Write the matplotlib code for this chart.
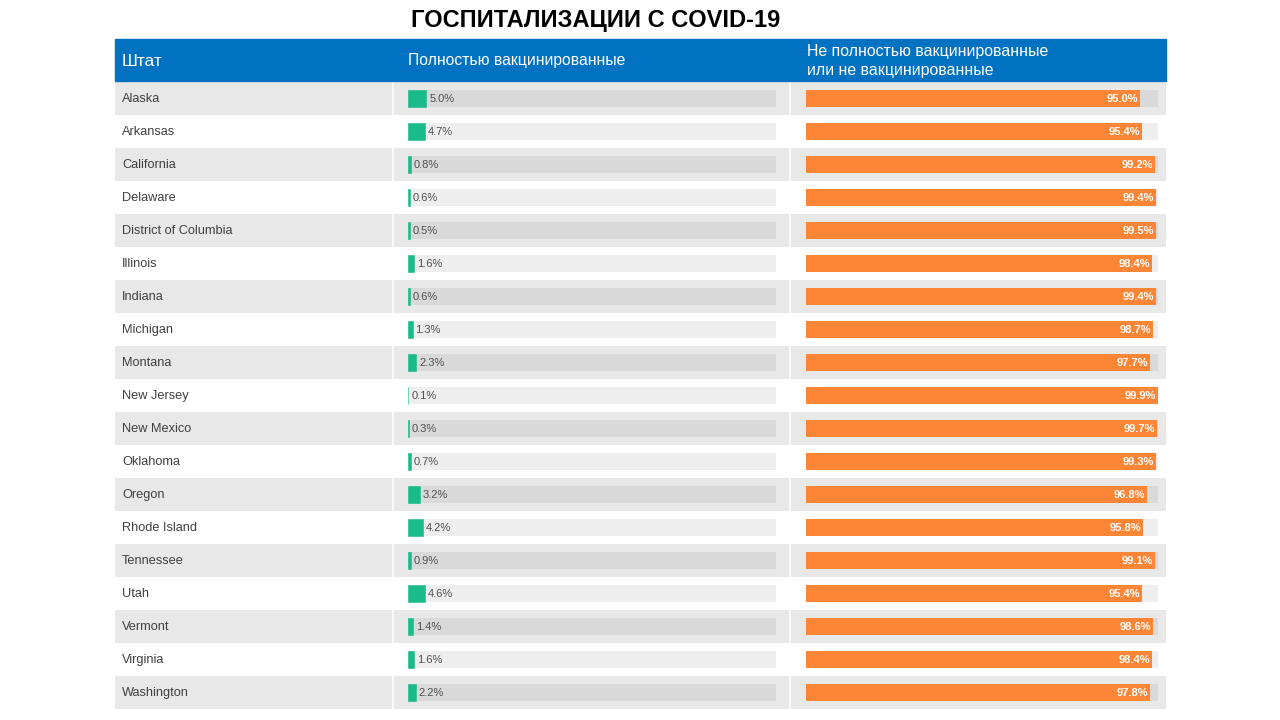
import matplotlib
matplotlib.use('Agg')
import matplotlib.pyplot as plt
from matplotlib.patches import Rectangle

states = ['Alaska', 'Arkansas', 'California', 'Delaware', 'District of Columbia',
          'Illinois', 'Indiana', 'Michigan', 'Montana', 'New Jersey', 'New Mexico',
          'Oklahoma', 'Oregon', 'Rhode Island', 'Tennessee', 'Utah', 'Vermont',
          'Virginia', 'Washington']
vaccinated = [5.0, 4.7, 0.8, 0.6, 0.5, 1.6, 0.6, 1.3, 2.3, 0.1, 0.3, 0.7, 3.2,
              4.2, 0.9, 4.6, 1.4, 1.6, 2.2]
not_vaccinated = [95.0, 95.4, 99.2, 99.4, 99.5, 98.4, 99.4, 98.7, 97.7, 99.9,
                  99.7, 99.3, 96.8, 95.8, 99.1, 95.4, 98.6, 98.4, 97.8]

title = 'ГОСПИТАЛИЗАЦИИ С COVID-19'
col_state = 'Штат'
col_vacc = 'Полностью вакцинированные'
col_not_vacc = 'Не полностью вакцинированные\nили не вакцинированные'

BLUE = '#0072c1'
GREEN = '#19bb8b'
ORANGE = '#fd8536'
ROW_GRAY = '#e8e8e8'
TRACK_DARK = '#d9d9d9'
TRACK_LIGHT = '#eeeeee'

NARROW = ['Liberation Sans Narrow', 'Liberation Sans', 'DejaVu Sans']
REGULAR = ['Liberation Sans', 'DejaVu Sans']

W, H = 1280, 720
fig = plt.figure(figsize=(12.8, 7.2), dpi=100)


def px_box(x0, y0, x1, y1):
    # pixel box (top-left origin) -> figure fraction rect
    return [x0 / W, 1 - y1 / H, (x1 - x0) / W, (y1 - y0) / H]


n = len(states)
rows = list(range(n))
TOP, BOTTOM = 82, 82 + 33 * n

ax_bg = fig.add_axes(px_box(115, TOP, 1166, BOTTOM))
ax_g = fig.add_axes(px_box(408, TOP, 776, BOTTOM))
ax_o = fig.add_axes(px_box(806, TOP, 1158, BOTTOM))
for ax in (ax_bg, ax_g, ax_o):
    ax.set_ylim(n - 0.5, -0.5)
    ax.axis('off')
    ax.patch.set_alpha(0)
ax_bg.set_xlim(115, 1166)
ax_g.set_xlim(0, 100)
ax_o.set_xlim(0, 100)

# alternating row backgrounds with white column separators
for i in rows:
    if i % 2 == 0:
        ax_bg.barh(i, 1166 - 115, left=115, height=1.0, color=ROW_GRAY, linewidth=0)
ax_bg.vlines([393, 790], -0.5, n - 0.5, colors='white', linewidth=1.1)

for i, s in enumerate(states):
    ax_bg.text(122, i + 0.03, s, va='center', ha='left', fontsize=9.2,
               color='#404040', family=NARROW)

tracks = [TRACK_DARK if i % 2 == 0 else TRACK_LIGHT for i in rows]
bh = 0.54

ax_g.barh(rows, [100] * n, height=bh, color=tracks, linewidth=0)
ax_g.barh(rows, vaccinated, height=bh, color=GREEN, edgecolor=GREEN, linewidth=0.4)
for i, v in enumerate(vaccinated):
    ax_g.annotate(f'{v:.1f}%', (v, i + 0.03), xytext=(2, 0), textcoords='offset points',
                  va='center', ha='left', fontsize=8, color='#505050', family=NARROW)

ax_o.barh(rows, [100] * n, height=bh, color=tracks, linewidth=0)
ax_o.barh(rows, not_vaccinated, height=bh, color=ORANGE, linewidth=0)
for i, v in enumerate(not_vaccinated):
    ax_o.annotate(f'{v:.1f}%', (v, i + 0.03), xytext=(-1.5, 0), textcoords='offset points',
                  va='center', ha='right', fontsize=8, color='white',
                  fontweight='bold', family=REGULAR)

# header band
fig.patches.append(Rectangle((115 / W, 1 - 81 / H), (1166 - 115) / W, 42 / H,
                             transform=fig.transFigure, color=BLUE, zorder=0))
fig.text(122 / W, 1 - 61 / H, col_state, color='white', fontsize=12.5,
         va='center', ha='left', family=REGULAR)
fig.text(408 / W, 1 - 61 / H, col_vacc, color='white', fontsize=11.3,
         va='center', ha='left', family=NARROW)
fig.text(807 / W, 1 - 61 / H, col_not_vacc, color='white', fontsize=11.4,
         va='center', ha='left', family=REGULAR, linespacing=1.3)

fig.text(596 / W, 1 - 20 / H, title, fontsize=17, fontweight='bold',
         ha='center', va='center', color='black', family=REGULAR)

fig.savefig('out.png', dpi=100, facecolor='white')
